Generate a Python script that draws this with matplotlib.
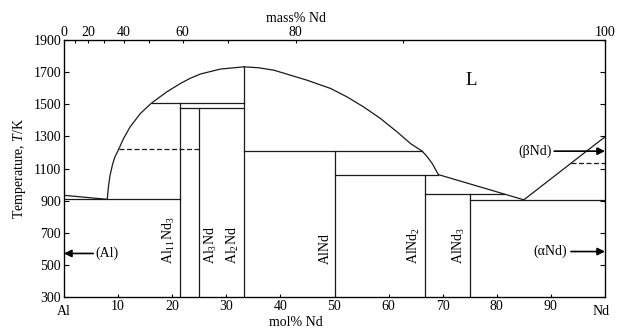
import matplotlib
matplotlib.use('Agg')
import matplotlib.pyplot as plt
import numpy as np

plt.rcParams['font.family'] = ['Liberation Serif', 'DejaVu Serif']
plt.rcParams['mathtext.fontset'] = 'custom'
plt.rcParams['mathtext.rm'] = 'Liberation Serif'
plt.rcParams['mathtext.it'] = 'Liberation Serif:italic'
plt.rcParams['font.size'] = 10

### data (mol% Nd, T in K) ###
liq_left_x = [8.0, 8.2, 8.5, 9.0, 9.4, 10.1, 11.0, 12.2, 14.1, 16.2, 19.0, 21.5, 23.3,
              25.2, 28.9, 33.3]
liq_left_T = [908, 983, 1056, 1129, 1171, 1219, 1286, 1358, 1442, 1508, 1577, 1629, 1661,
              1688, 1719, 1733]
liq_right_x = [33.3, 36.0, 38.8, 44.9, 49.3, 52.3, 55.4, 58.5, 61.6, 64.1, 66.2, 67.1,
               68.1, 69.2, 85.0, 100.0]
liq_right_T = [1733, 1727, 1712, 1650, 1598, 1546, 1483, 1411, 1327, 1254, 1208, 1175,
               1129, 1062, 905, 1297]
al_melt_x = [0.0, 8.0]
al_melt_T = [933, 908]

# horizontal invariant lines: (x start, x end, T)
inv_x0 = [0.0, 16.2, 21.4, 33.3, 50.0, 66.7, 75.0]
inv_x1 = [21.4, 33.3, 33.3, 66.2, 69.2, 81.3, 100.0]
inv_T = [908, 1508, 1477, 1208, 1062, 942, 905]

# dashed transitions
dash_x0 = [10.1, 93.7]
dash_x1 = [25.0, 100.0]
dash_T = [1219, 1133]

# compounds: composition, top temperature, label, label side
comp_x = [21.4, 25.0, 33.3, 50.0, 66.7, 75.0]
comp_T = [1508, 1477, 1733, 1208, 1062, 942]
comp_lab = ['Al$_{11}$Nd$_3$', 'Al$_3$Nd', 'Al$_2$Nd', 'AlNd', 'AlNd$_2$', 'AlNd$_3$']
comp_side = ['right', 'left', 'right', 'right', 'right', 'right']

yticks = [300, 500, 700, 900, 1100, 1300, 1500, 1700, 1900]
xticks = [10, 20, 30, 40, 50, 60, 70, 80, 90]
mass_major = [0, 20, 40, 60, 80, 100]
mass_minor = [10, 30, 50, 70, 90]

M_Al = 26.98
M_Nd = 144.24


def mass2mol(w):
    w = np.asarray(w, dtype=float)
    nd = w / M_Nd
    al = (100. - w) / M_Al
    return 100. * nd / (nd + al)


fig = plt.figure(figsize=(6.23, 3.29), dpi=100)
ax = fig.add_axes([64/623., 1-297/329., (605-64)/623., (297-40)/329.])
lc = '#1a1a1a'
lw = 0.9

ax.plot(liq_left_x, liq_left_T, color=lc, lw=lw)
ax.plot(liq_right_x, liq_right_T, color=lc, lw=lw)
ax.plot(al_melt_x, al_melt_T, color=lc, lw=lw)
for i in range(len(inv_T)):
    ax.plot([inv_x0[i], inv_x1[i]], [inv_T[i], inv_T[i]], color=lc, lw=lw)
for i in range(len(dash_T)):
    ax.plot([dash_x0[i], dash_x1[i]], [dash_T[i], dash_T[i]], color=lc, lw=lw,
            linestyle=(0, (4, 2)))
for i in range(len(comp_x)):
    ax.plot([comp_x[i], comp_x[i]], [300, comp_T[i]], color=lc, lw=lw)
    if comp_side[i] == 'right':
        ax.text(comp_x[i]-0.5, 505, comp_lab[i], rotation=90, ha='right', va='bottom')
    else:
        ax.text(comp_x[i]+0.6, 505, comp_lab[i], rotation=90, ha='left', va='bottom')

ax.text(75.2, 1650, 'L', fontsize=13.5, ha='center', va='center')

# phase arrows
arw = dict(arrowstyle='-|>', color='k', lw=1.2, mutation_scale=11, shrinkA=0, shrinkB=0)
ax.annotate('', xy=(0, 571), xytext=(5.4, 571), arrowprops=arw)
ax.text(5.8, 571, '(Al)', ha='left', va='center')
ax.annotate('', xy=(100, 583), xytext=(93.7, 583), arrowprops=arw)
ax.text(92.9, 583, '(\u03b1Nd)', ha='right', va='center')
ax.annotate('', xy=(100, 1208), xytext=(90.6, 1208), arrowprops=arw)
ax.text(90.2, 1208, '(\u03b2Nd)', ha='right', va='center')

ax.set_xlim(0, 100)
ax.set_ylim(300, 1900)
ax.set_yticks(yticks)
ax.set_xticks(xticks)
ax.tick_params(axis='y', which='both', direction='in', length=3.8, width=0.8,
               right=True, labelright=False, pad=2)
ax.tick_params(axis='x', which='both', direction='in', length=2.5, width=0.8, pad=2)
ax.text(0, -0.057, 'Al', transform=ax.get_xaxis_transform(), ha='center', va='center')
ax.text(99.2, -0.057, 'Nd', transform=ax.get_xaxis_transform(), ha='center', va='center')
ax.text(42.8, -0.112, 'mol% Nd', transform=ax.get_xaxis_transform(), ha='center',
        va='baseline')
ax.set_ylabel('Temperature, $T$/K', labelpad=4)
for s in ax.spines.values():
    s.set_linewidth(0.9)

# mass% Nd on top
ax2 = ax.twiny()
ax2.set_xlim(0, 100)
ax2.set_xticks(mass2mol(mass_major))
ax2.set_xticklabels([str(m) for m in mass_major])
ax2.set_xticks(mass2mol(mass_minor), minor=True)
ax2.tick_params(axis='x', which='both', direction='in', length=2.5, width=0.8, pad=1)
ax2.text(mass2mol(80), 1.085, 'mass% Nd', transform=ax2.get_xaxis_transform(),
         ha='center', va='center')

plt.savefig('out.png', dpi=100)
